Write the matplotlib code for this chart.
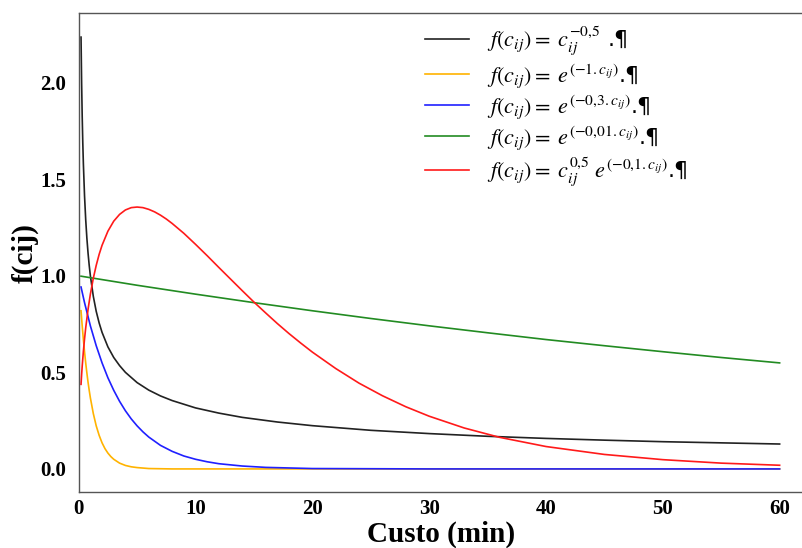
import matplotlib
matplotlib.use("Agg")
import matplotlib.pyplot as plt

# custo (min) and f(cij) values, one pair of arrays per curve
x_pot = [0.2, 0.25, 0.3, 0.35, 0.4, 0.5, 0.6, 0.7, 0.8, 0.9, 1, 1.25, 1.5, 1.75, 2, 2.5,
         3, 3.5, 4, 5, 6, 7, 8, 10, 12, 14, 17, 20, 25, 30, 35, 40, 45, 50, 55, 60]
f_pot = [2.236, 2.000, 1.826, 1.690, 1.581, 1.414, 1.291, 1.195, 1.118, 1.054, 1.000,
         0.894, 0.816, 0.756, 0.707, 0.632, 0.577, 0.535, 0.500, 0.447, 0.408, 0.378,
         0.354, 0.316, 0.289, 0.267, 0.243, 0.224, 0.200, 0.183, 0.169, 0.158, 0.149,
         0.141, 0.135, 0.129]

x_exp1 = [0.2, 0.3, 0.4, 0.5, 0.6, 0.7, 0.8, 0.9, 1, 1.25, 1.5, 1.75, 2, 2.25, 2.5, 2.75,
          3, 3.5, 4, 4.5, 5, 6, 7, 8, 10, 60]
f_exp1 = [0.819, 0.741, 0.670, 0.607, 0.549, 0.497, 0.449, 0.407, 0.368, 0.287, 0.223,
          0.174, 0.135, 0.105, 0.082, 0.064, 0.050, 0.030, 0.018, 0.011, 0.007, 0.002,
          0.001, 0.0, 0.0, 0.0]

x_exp03 = [0.2, 0.5, 1, 1.5, 2, 2.5, 3, 3.5, 4, 4.5, 5, 5.5, 6, 7, 8, 9, 10, 11, 12, 14,
           16, 18, 20, 25, 30, 60]
f_exp03 = [0.942, 0.861, 0.741, 0.638, 0.549, 0.472, 0.407, 0.350, 0.301, 0.259, 0.223,
           0.192, 0.165, 0.122, 0.091, 0.067, 0.050, 0.037, 0.027, 0.015, 0.008, 0.005,
           0.002, 0.001, 0.0, 0.0]

x_exp001 = [0.2, 5, 10, 15, 20, 25, 30, 35, 40, 45, 50, 55, 60]
f_exp001 = [0.998, 0.951, 0.905, 0.861, 0.819, 0.779, 0.741, 0.705, 0.670, 0.638, 0.607,
            0.577, 0.549]

x_comb = [0.2, 0.25, 0.3, 0.4, 0.5, 0.6, 0.8, 1, 1.25, 1.5, 1.75, 2, 2.5, 3, 3.5, 4, 4.5,
          5, 5.5, 6, 6.5, 7, 7.5, 8, 9, 10, 11, 12, 13, 14, 15, 16, 17, 18, 19, 20, 22,
          24, 26, 28, 30, 33, 36, 40, 45, 50, 55, 60]
f_comb = [0.438, 0.488, 0.532, 0.608, 0.673, 0.730, 0.826, 0.905, 0.987, 1.054, 1.111,
          1.158, 1.231, 1.283, 1.318, 1.341, 1.353, 1.356, 1.353, 1.344, 1.331, 1.314,
          1.294, 1.271, 1.220, 1.163, 1.104, 1.043, 0.983, 0.923, 0.864, 0.808, 0.753,
          0.701, 0.652, 0.605, 0.520, 0.444, 0.379, 0.322, 0.273, 0.212, 0.164, 0.116,
          0.075, 0.048, 0.030, 0.019]

labels = [
    r'$f\left(c_{ij}\right) =\ c_{ij}^{-0{,}5}$ .¶',
    r'$f\left(c_{ij}\right) =\ e^{(-1{.}c_{ij})}$.¶',
    r'$f\left(c_{ij}\right) =\ e^{(-0{,}3{.}c_{ij})}$.¶',
    r'$f\left(c_{ij}\right) =\ e^{(-0{,}01{.}c_{ij})}$.¶',
    r'$f\left(c_{ij}\right) =\ c_{ij}^{0{,}5}\ e^{(-0{,}1{.}c_{ij})}$.¶',
]
colors = ['#222222', '#ffb300', '#2020ff', '#228b22', '#ff1a1a']
series = [(x_pot, f_pot), (x_exp1, f_exp1), (x_exp03, f_exp03),
          (x_exp001, f_exp001), (x_comb, f_comb)]

plt.rcParams['mathtext.fontset'] = 'stix'

fig = plt.figure(figsize=(8.03, 5.48), dpi=100)
ax = fig.add_axes([0.098, 0.102, 0.902, 0.874])

for (xs, ys), c, lab in zip(series, colors, labels):
    ax.plot(xs, ys, color=c, lw=1.2, label=lab)

ax.set_xlim(0, 62)
ax.set_ylim(-0.12, 2.36)
ax.set_xticks([0, 10, 20, 30, 40, 50, 60])
ax.set_yticks([0.0, 0.5, 1.0, 1.5, 2.0])
ax.set_yticklabels(['0.0', '0.5', '1.0', '1.5', '2.0'])

for t in ax.get_xticklabels() + ax.get_yticklabels():
    t.set_fontfamily('Liberation Serif')
    t.set_fontweight('bold')
    t.set_fontsize(15)
ax.tick_params(axis='x', length=0, pad=5)
ax.tick_params(axis='y', length=0, pad=9)

ax.set_xlabel('Custo (min)', fontfamily='Liberation Serif', fontweight='bold',
              fontsize=21, labelpad=1)
ax.set_ylabel('f(cij)', fontfamily='Liberation Serif', fontweight='bold',
              fontsize=21, labelpad=1)

for s in ax.spines.values():
    s.set_color('#555555')
    s.set_linewidth(1.0)

ax.legend(loc='upper left', bbox_to_anchor=(0.478, 0.975), frameon=False,
          fontsize=16, handlelength=2.0, labelspacing=0.15, handletextpad=0.8,
          borderpad=0, borderaxespad=0)

fig.savefig('out.png', dpi=100)
